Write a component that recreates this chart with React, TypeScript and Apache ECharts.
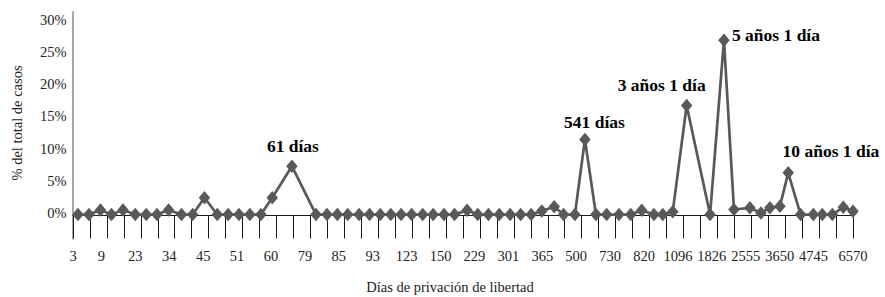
import React, { useEffect, useRef } from "react";
import * as echarts from "echarts";

// Tick labels of the horizontal axis (days of deprivation of liberty)
const tickLabels = [
  "3", "9", "23", "34", "45", "51", "60", "79", "85", "93", "123", "150",
  "229", "301", "365", "500", "730", "820", "1096", "1826", "2555", "3650", "4745", "6570",
];

// Horizontal position of each point, in tick units (47 ticks, 0..46)
const xPos = [
  0.29, 0.94, 1.62, 2.27, 2.95, 3.67, 4.32, 4.95, 5.64, 6.40,
  7.06, 7.75, 8.51, 9.15, 9.79, 10.43, 11.08, 11.75, 12.91, 14.33,
  14.98, 15.59, 16.20, 16.87, 17.49, 18.12, 18.74, 19.35, 19.97, 20.62,
  21.24, 21.88, 22.50, 23.24, 23.87, 24.50, 25.14, 25.78, 26.40, 27.02,
  27.65, 28.38, 28.93, 29.60, 30.19, 30.84, 31.47, 32.20, 32.89, 33.54,
  34.26, 34.78, 35.37, 36.19, 37.57, 38.39, 38.98, 39.92, 40.57, 41.10,
  41.69, 42.18, 42.91, 43.66, 44.19, 44.78, 45.43, 46.0,
];

// % of total cases
const pct = [
  0.15, 0.15, 0.85, 0.15, 0.85, 0.15, 0.15, 0.15, 0.85, 0.15,
  0.15, 2.76, 0.15, 0.15, 0.15, 0.15, 0.15, 2.76, 7.68, 0.15,
  0.15, 0.15, 0.15, 0.15, 0.15, 0.15, 0.15, 0.15, 0.15, 0.15,
  0.15, 0.15, 0.15, 0.8, 0.15, 0.15, 0.15, 0.15, 0.15, 0.15,
  0.7, 1.35, 0.15, 0.15, 11.84, 0.15, 0.15, 0.15, 0.15, 0.8,
  0.15, 0.15, 0.6, 17.13, 0.15, 27.3, 0.93, 1.2, 0.4, 1.2,
  1.45, 6.65, 0.15, 0.15, 0.15, 0.15, 1.3, 0.67,
];

const peakIndex = [18, 44, 53, 55, 61];
const peakNames = ["61 días", "541 días", "3 años 1 día", "5 años 1 día", "10 años 1 día"];
const yLabelValues = [0, 5, 10, 15, 20, 25, 30];

const FONT = "Liberation Serif, serif";
const labelOffsets: [number, number][] = [
  [1, -19.7],
  [9.5, -17.3],
  [-25, -21],
  [52, -5.7],
  [42.7, -21.6],
];

export default function App() {
  const ref = useRef<HTMLDivElement>(null);
  useEffect(() => {
    const chart = echarts.init(ref.current!, null, { renderer: "svg" });
    const data = xPos.map((x, i) => [x, pct[i]]);
    chart.setOption({
      animation: false,
      backgroundColor: "#fff",
      grid: { left: 73, right: 32, top: 11.7, bottom: 58, containLabel: false },
      xAxis: {
        type: "value",
        min: 0,
        max: 46,
        interval: 1,
        axisLine: { show: true, onZero: true, lineStyle: { color: "#1a1a1a", width: 1 } },
        axisTick: { show: true, length: 23, lineStyle: { color: "#1a1a1a", width: 1 } },
        splitLine: { show: false },
        axisLabel: { show: false },
      },
      yAxis: {
        type: "value",
        min: -3.66,
        max: 31.74,
        axisLine: { show: true, onZero: false, lineStyle: { color: "#8a8a8a", width: 1.5 } },
        axisTick: { show: false },
        splitLine: { show: false },
        axisLabel: { show: false },
      },
      series: [
        {
          type: "line",
          data,
          symbol: "diamond",
          symbolSize: [11.5, 13.5],
          lineStyle: { color: "#595959", width: 2.7 },
          itemStyle: { color: "#595959" },
          clip: false,
          label: { show: false },
          emphasis: { disabled: true },
        },
      ],
    });

    const toPx = (x: number, y: number) =>
      chart.convertToPixel({ xAxisIndex: 0, yAxisIndex: 0 }, [x, y]) as number[];

    const graphics: any[] = [];
    // x-axis tick labels (every second tick)
    tickLabels.forEach((lab, k) => {
      const t = k * 2;
      const [px, py] = toPx(t, 0);
      const shift = k === 0 || k === tickLabels.length - 1 ? 0 : -5.5;
      graphics.push({
        type: "text",
        x: px + shift,
        y: py + 40.5,
        silent: true,
        style: { text: lab, font: `14.5px ${FONT}`, fill: "#222", align: "center", verticalAlign: "middle" },
      });
    });
    // y-axis labels
    yLabelValues.forEach((v) => {
      const [px, py] = toPx(0, v);
      graphics.push({
        type: "text",
        x: px - 6.3,
        y: py - 2.7,
        silent: true,
        style: { text: `${v}%`, font: `14.5px ${FONT}`, fill: "#222", align: "right", verticalAlign: "middle" },
      });
    });
    // peak annotations
    peakIndex.forEach((idx, k) => {
      const [px, py] = toPx(xPos[idx], pct[idx]);
      graphics.push({
        type: "text",
        x: px + labelOffsets[k][0],
        y: py + labelOffsets[k][1],
        silent: true,
        style: { text: peakNames[k], font: `bold 17.5px ${FONT}`, fill: "#000", align: "center", verticalAlign: "middle" },
      });
    });
    // axis titles
    graphics.push({
      type: "text",
      x: 16.7,
      y: 123,
      rotation: Math.PI / 2,
      silent: true,
      style: { text: "% del total de casos", font: `14.5px ${FONT}`, fill: "#222", align: "center", verticalAlign: "middle" },
    });
    graphics.push({
      type: "text",
      x: 450,
      y: 286.7,
      silent: true,
      style: { text: "Días de privación de libertad", font: `14.5px ${FONT}`, fill: "#222", align: "center", verticalAlign: "middle" },
    });
    chart.setOption({ graphic: graphics });

    return () => chart.dispose();
  }, []);
  return (
    <div
      ref={ref}
      style={{ position: "fixed", left: 0, top: 0, width: 885, height: 297 }}
    />
  );
}
